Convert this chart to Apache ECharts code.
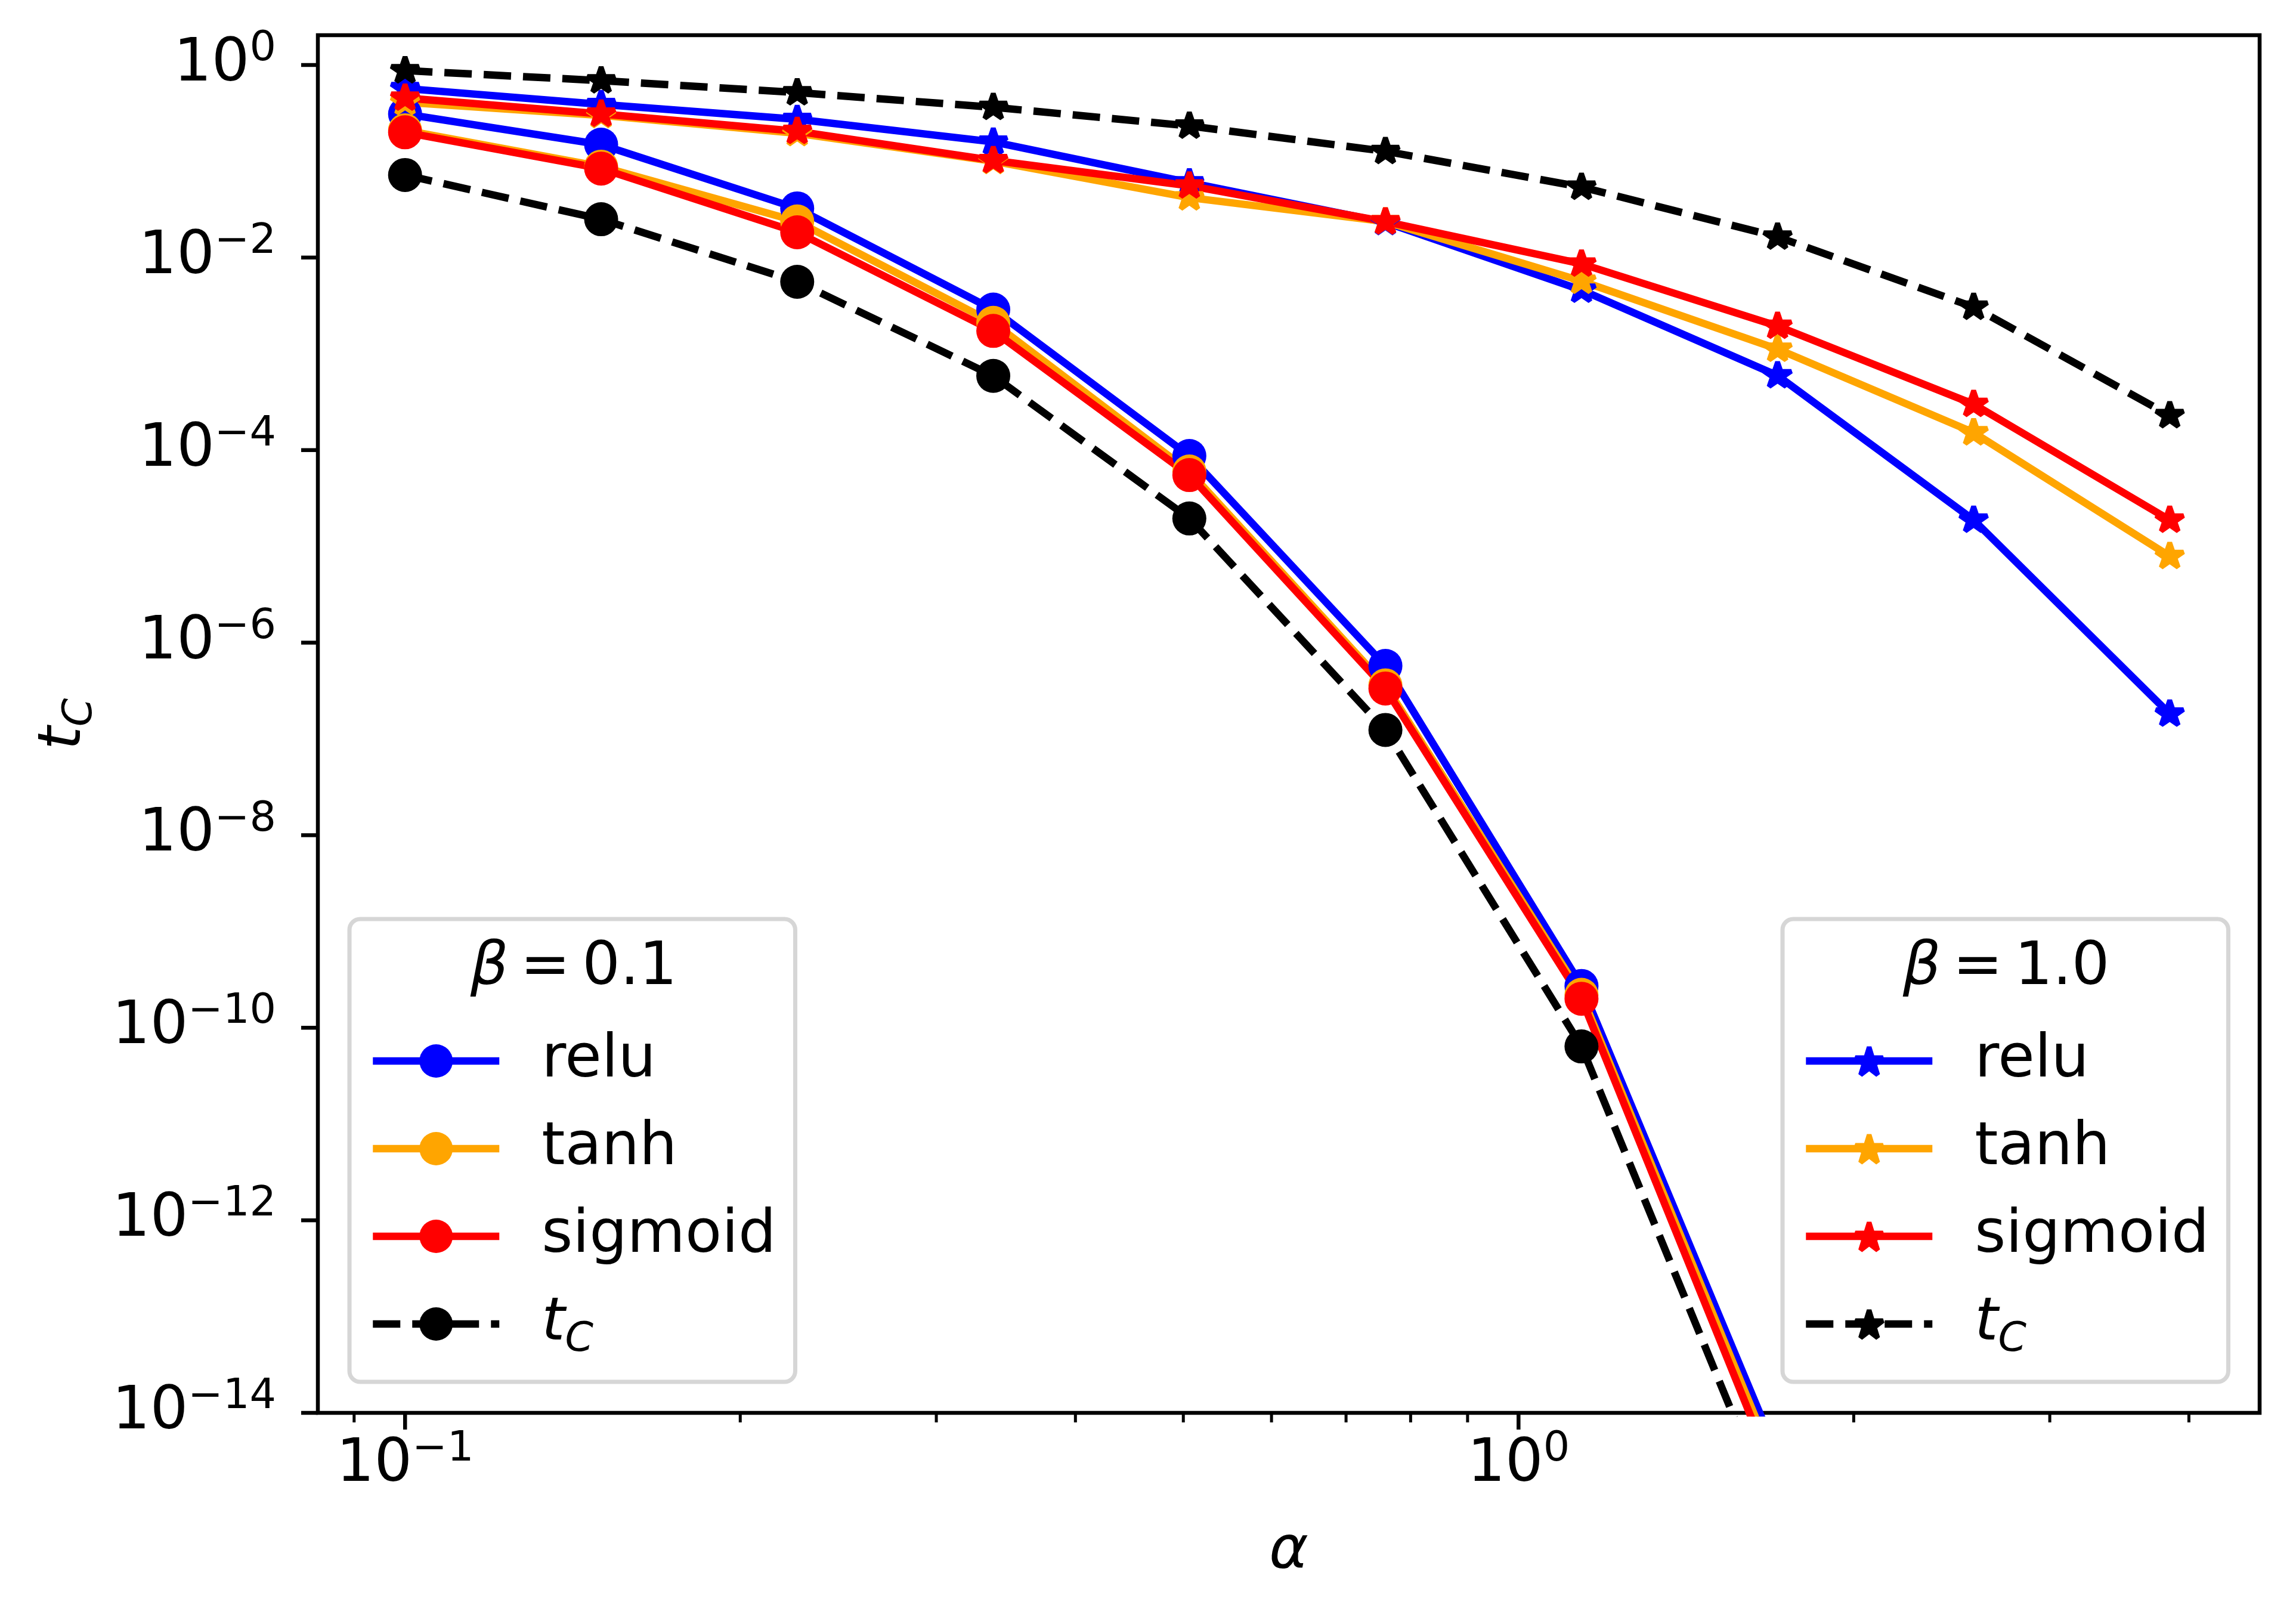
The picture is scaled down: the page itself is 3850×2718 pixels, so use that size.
<!DOCTYPE html>
<html>
<head>
<meta charset="utf-8">
<script src="https://cdn.jsdelivr.net/npm/echarts@6/dist/echarts.min.js"></script>
<style>
html,body{margin:0;padding:0;background:#ffffff;}
#chart{width:3850px;height:2718px;}
</style>
</head>
<body>
<div id="chart"></div>
<script>
// ---------------- data ----------------
const alpha = [0.1, 0.15, 0.225, 0.3375, 0.50625, 0.759375, 1.1390625, 1.70859375, 2.5628906, 3.8443359];

// beta = 0.1 (circle markers)
const relu01    = [0.31, 0.149, 0.0324, 0.00288, 8.7e-5, 5.74e-7, 2.72e-10, 3.6e-15];
const tanh01    = [0.21, 0.088, 0.0237, 0.0021, 6.0e-5, 3.6e-7, 2.2e-10, 2.5e-15];
const sigmoid01 = [0.20, 0.084, 0.0183, 0.00173, 5.5e-5, 3.34e-7, 2.0e-10, 1.9e-15];
const tc01      = [0.072, 0.025, 0.0056, 5.9e-4, 1.95e-5, 1.24e-7, 6.4e-11, 7.2e-16];

// beta = 1.0 (star markers)
const relu10    = [0.57, 0.39, 0.273, 0.159, 0.060, 0.0232, 0.0046, 5.95e-4, 1.88e-5, 1.82e-7];
const tanh10    = [0.41, 0.30, 0.195, 0.100, 0.0419, 0.0236, 0.0057, 0.00112, 1.52e-4, 7.9e-6];
const sigmoid10 = [0.455, 0.31, 0.205, 0.102, 0.0557, 0.0236, 0.0086, 0.00194, 3.0e-4, 1.88e-5];
const tc10      = [0.875, 0.688, 0.517, 0.364, 0.233, 0.127, 0.054, 0.0164, 0.00306, 2.29e-4];

const activationNames = ['relu', 'tanh', 'sigmoid', 'tC'];
const betaLabels = ['β\u2009=\u20090.1', 'β\u2009=\u20091.0'];

// axis ranges and tick positions
const X_MIN = 0.0835, X_MAX = 4.63;
const Y_MIN = 1e-14, Y_MAX = 2.04;
const xMajorTicks = [0.1, 1];
const xMinorTicks = [0.09, 0.2, 0.3, 0.4, 0.5, 0.6, 0.7, 0.8, 0.9, 2, 3, 4];
const yMajorTicks = [1, 1e-2, 1e-4, 1e-6, 1e-8, 1e-10, 1e-12, 1e-14];

// ---------------- styles ----------------
const FONT = 'DejaVu Sans';
const COLORS = {relu: '#0000ff', tanh: '#ffa500', sigmoid: '#ff0000', tC: '#000000'};
const LW = 12.5;
const DASH = [46, 20];
const STAR = 'path://M0,-1L0.2245,-0.309L0.9511,-0.309L0.3633,0.118L0.5878,0.809L0,0.382L-0.5878,0.809L-0.3633,0.118L-0.9511,-0.309L-0.2245,-0.309Z';

function seriesName(act, b) { return act + ', ' + betaLabels[b]; }

function makeLine(act, b, values) {
  const color = COLORS[act];
  const isStar = b === 1;
  return {
    type: 'line',
    name: seriesName(act, b),
    data: values.map((v, i) => [alpha[i], v]),
    symbol: isStar ? STAR : 'circle',
    symbolSize: isStar ? [46, 43.8] : 57,
    symbolKeepAspect: true,
    symbolOffset: isStar ? [0, -2.2] : [0, 0],
    showSymbol: true,
    showAllSymbol: true,
    clip: true,
    lineStyle: {color: color, width: LW, type: act === 'tC' ? DASH : 'solid', cap: 'butt', join: 'round'},
    itemStyle: isStar
      ? {color: color, borderColor: color, borderWidth: 8, borderJoin: 'bevel'}
      : {color: color, borderWidth: 0},
    emphasis: {disabled: true},
    animation: false,
    z: 2
  };
}

const seriesList = [
  makeLine('relu', 0, relu01),
  makeLine('tanh', 0, tanh01),
  makeLine('sigmoid', 0, sigmoid01),
  makeLine('tC', 0, tc01),
  makeLine('relu', 1, relu10),
  makeLine('tanh', 1, tanh10),
  makeLine('sigmoid', 1, sigmoid10),
  makeLine('tC', 1, tc10)
];

// ticks drawn through the axes' own scales
const tickData = []
  .concat(xMajorTicks.map(v => [v, Y_MIN, 0]))
  .concat(xMinorTicks.map(v => [v, Y_MIN, 1]))
  .concat(yMajorTicks.map(v => [X_MIN, v, 2]));

seriesList.push({
  type: 'custom',
  name: 'ticks',
  silent: true,
  clip: false,
  animation: false,
  z: 6,
  data: tickData,
  encode: {x: 0, y: 1},
  renderItem: function (params, api) {
    const p = api.coord([api.value(0), api.value(1)]);
    const k = api.value(2);
    let shape;
    if (k === 2) {
      shape = {x1: p[0], y1: p[1], x2: p[0] - 28, y2: p[1]};
    } else {
      const len = k === 0 ? 28 : 16;
      shape = {x1: p[0], y1: p[1], x2: p[0], y2: p[1] + len};
    }
    return {type: 'line', shape: shape, style: {stroke: '#000', lineWidth: k === 1 ? 5 : 6.5}};
  }
});

function powLabel(v) {
  if (!(v > 0)) return '';
  const e = Math.log10(v);
  const r = Math.round(e);
  if (Math.abs(e - r) > 1e-6) return '';
  return '{b|10}{s|' + (r < 0 ? '\u2212' + (-r) : String(r)) + '}';
}

const labelRich = {
  b: {fontFamily: FONT, fontSize: 100, lineHeight: 100, color: '#000'},
  s: {fontFamily: FONT, fontSize: 70, lineHeight: 70, padding: [0, 0, 52, 0], color: '#000'}
};

const tcRich = {
  t: {fontFamily: FONT, fontStyle: 'italic', fontSize: 100, lineHeight: 100, color: '#000'},
  c: {fontFamily: FONT, fontStyle: 'italic', fontSize: 68, lineHeight: 68, padding: [54, 0, 0, 0], color: '#000'}
};

function legendFormatter(name) {
  const base = name.split(',')[0];
  return base === 'tC' ? '{t|t}{c|C}' : base;
}

function makeLegend(b, left, itemHeight) {
  return {
    data: activationNames.map(a => ({
      name: seriesName(a, b),
      lineStyle: {color: COLORS[a], width: LW, type: a === 'tC' ? DASH : 'solid', cap: 'butt'},
      itemStyle: b === 1
        ? {color: COLORS[a], borderColor: COLORS[a], borderWidth: 8, borderJoin: 'bevel'}
        : {color: COLORS[a], borderWidth: 0}
    })),
    orient: 'vertical',
    left: left,
    top: 1541,
    itemWidth: 212,
    itemHeight: itemHeight,
    itemGap: 25,
    padding: [177, 32, 36, 33],
    borderColor: '#d6d6d6',
    borderWidth: 7,
    borderRadius: 18,
    backgroundColor: 'rgba(255,255,255,0.8)',
    selectedMode: false,
    formatter: legendFormatter,
    textStyle: {fontFamily: FONT, fontSize: 100, lineHeight: 122, color: '#000', padding: [0, 0, 0, 66], rich: tcRich}
  };
}

function legendTitle(text, x) {
  return {
    type: 'text', x: x, y: 1624, z: 100,
    style: {
      text: text.replace('β', '{b|β}'),
      rich: {b: {fontFamily: FONT, fontStyle: 'italic', fontSize: 100}},
      fontFamily: FONT, fontSize: 100, fill: '#000', align: 'center', verticalAlign: 'middle'
    }
  };
}

const option = {
  backgroundColor: '#ffffff',
  animation: false,
  grid: {left: 533, right: 61, top: 59, bottom: 349, show: true, borderColor: '#000', borderWidth: 6.5, backgroundColor: 'transparent'},
  xAxis: {
    type: 'log', logBase: 10, min: X_MIN, max: X_MAX,
    axisLine: {show: false}, axisTick: {show: false}, splitLine: {show: false}, minorTick: {show: false},
    axisLabel: {margin: 38, formatter: powLabel, rich: labelRich, showMinLabel: false, showMaxLabel: false, fontFamily: FONT, color: '#000'},
    name: 'α', nameLocation: 'middle', nameGap: 184,
    nameTextStyle: {fontFamily: FONT, fontStyle: 'italic', fontSize: 100, lineHeight: 100, color: '#000'}
  },
  yAxis: {
    type: 'log', logBase: 100, min: Y_MIN, max: Y_MAX,
    axisLine: {show: false}, axisTick: {show: false}, splitLine: {show: false}, minorTick: {show: false},
    axisLabel: {margin: 70, formatter: powLabel, rich: labelRich, showMinLabel: true, showMaxLabel: false, fontFamily: FONT, color: '#000'},
    name: '{t|t}{c|C}', nameLocation: 'middle', nameGap: 375, nameRotate: 90,
    nameTextStyle: {fontFamily: FONT, fontSize: 100, color: '#000', rich: tcRich}
  },
  legend: [makeLegend(0, 586, 70), makeLegend(1, 2989, 58)],
  graphic: [legendTitle(betaLabels[0], 962), legendTitle(betaLabels[1], 3364)],
  series: seriesList
};

const chart = echarts.init(document.getElementById('chart'), null, {renderer: 'canvas', devicePixelRatio: 1});
chart.setOption(option);
</script>
</body>
</html>
